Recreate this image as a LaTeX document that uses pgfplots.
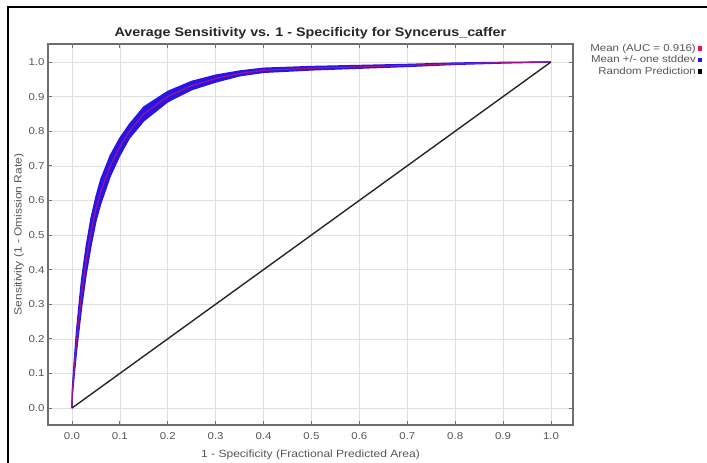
\documentclass[border=0pt]{standalone}
\usepackage{pgfplots}
\pgfplotsset{compat=1.18}
\usepgfplotslibrary{fillbetween}
\usepackage{fontspec}
\setmainfont{Liberation Sans}
\newfontfamily\wide[FakeStretch=1.15]{Liberation Sans}
\definecolor{txtgray}{RGB}{85,85,85}
\definecolor{boxgray}{RGB}{110,110,110}
\definecolor{meanred}{RGB}{235,20,80}
\definecolor{sdblue}{RGB}{40,20,230}

% x, mean, lower, upper
\pgfplotstableread{
x      mean   lo     hi
0.000  0.000  0.000  0.000
0.001  0.050  0.040  0.060
0.005  0.120  0.100  0.140
0.010  0.200  0.170  0.230
0.020  0.330  0.290  0.370
0.030  0.430  0.390  0.470
0.040  0.510  0.470  0.550
0.050  0.575  0.540  0.610
0.060  0.625  0.590  0.660
0.080  0.700  0.670  0.730
0.100  0.755  0.730  0.780
0.120  0.800  0.780  0.820
0.150  0.850  0.830  0.870
0.200  0.900  0.885  0.915
0.250  0.932  0.920  0.944
0.300  0.952  0.942  0.962
0.350  0.967  0.960  0.974
0.400  0.976  0.970  0.982
0.500  0.982  0.977  0.987
0.600  0.986  0.982  0.990
0.700  0.990  0.987  0.993
0.800  0.995  0.993  0.997
0.900  0.998  0.997  0.999
1.000  1.000  1.000  1.000
}\roc

\begin{document}
\begin{tikzpicture}
\begin{axis}[
    at={(0,0)}, anchor=south west,
    scale only axis, width=525bp, height=381bp,
    xmin=-0.05, xmax=1.046, ymin=-0.049, ymax=1.052,
    xtick={0,0.1,...,1.0}, ytick={0,0.1,...,1.0},
    /pgf/number format/fixed, /pgf/number format/fixed zerofill,
    /pgf/number format/precision=1,
    /pgf/number format/assume math mode=true,
    ticklabel style={font=\wide\fontsize{10}{12}\selectfont, text=txtgray},
    xticklabel style={yshift=-4bp},
    grid=major, grid style={gray!25, line width=0.6bp},
    axis line style={boxgray, line width=1.2bp},
    tick style={boxgray, line width=0.8bp},
    major tick length=4bp, tick align=inside,
    title={\bfseries Average Sensitivity vs. 1 - Specificity for Syncerus\_caffer},
    title style={font=\wide\fontsize{12.5}{14}\selectfont, text=black!85, yshift=-5bp},
    xlabel={1 - Specificity (Fractional Predicted Area)},
    ylabel={Sensitivity (1 - Omission Rate)},
    label style={font=\wide\fontsize{10.5}{12}\selectfont, text=txtgray},
    xlabel style={yshift=-4bp},
    ylabel style={yshift=-2bp},
    legend style={at={(1.245,1.006)}, anchor=north east, draw=none, fill=none,
        font=\wide\fontsize{10}{11}\selectfont, text=txtgray,
        cells={anchor=east}, row sep=-1.2bp, inner sep=0pt},
    legend plot pos=right,
]
\addplot[name path=up, sdblue, line width=1.3bp, forget plot] table[x=x, y=hi] {\roc};
\addplot[name path=lo, sdblue, line width=1.3bp, forget plot] table[x=x, y=lo] {\roc};
\addplot[sdblue, forget plot] fill between[of=up and lo];
\addplot[meanred, line width=1.2bp, opacity=0.6, forget plot] table[x=x, y=mean] {\roc};
\addplot[black!85, line width=1.4bp, forget plot] coordinates {(0,0) (1,1)};
\addlegendimage{only marks, mark=square*, mark size=1.8bp, meanred}
\addlegendentry{Mean (AUC = 0.916)}
\addlegendimage{only marks, mark=square*, mark size=1.8bp, sdblue}
\addlegendentry{Mean +/- one stddev}
\addlegendimage{only marks, mark=square*, mark size=1.8bp, black}
\addlegendentry{Random Prediction}
\end{axis}
\draw[black, line width=2bp] (-40bp,-38bp) -- (-40bp,418bp) -- (659bp,418bp);
\pgfresetboundingbox
\path (-48bp,-38bp) rectangle (659bp,425bp);
\end{tikzpicture}
\end{document}
